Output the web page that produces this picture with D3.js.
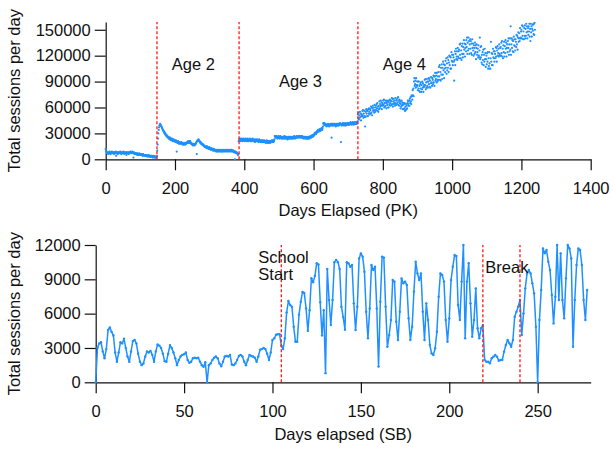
<!DOCTYPE html>
<html lang="en">
<head>
<meta charset="UTF-8">
<title>Total sessions per day</title>
<script src="https://d3js.org/d3.v7.min.js"></script>
<style>
    body { margin: 0; background: #fff; }
    svg text { font-family: "Liberation Sans", Arial, Helvetica, sans-serif; font-size: 16.5px; fill: #111; }
    .axis path, .axis line { stroke: #111; stroke-width: 1.2px; }
    .axis text { font-size: 16.5px; }
</style>
</head>
<body>
<div id="plot"></div>
<script>
// PK: sessions per day, in thousands, one value per day from day 0
let pkSessions = [
12,10,9,8,7,8,7,6,8,7,8,9,7,8,6,7,8,7,9,8,
7,8,7,8,6,7,8,8,7,9,4,7,8,7,8,6,8,7,7,8,
8,7,9,7,8,6,7,8,7,8,7,9,8,7,6,8,7,8,7,8,
5,7,8,7,8,7,6,8,7,8,8,7,9,8,7,8,8,9,8,7,
2,7,8,6,7,7,6,7,6,7,6,5,7,6,6,5,6,7,5,6,
6,5,6,5,5,6,4,5,6,5,4,5,5,4,5,4,5,4,4,5,
4,3,4,4,5,3,4,4,3,4,3,3,4,3,4,3,2,3,3,4,
3,2,3,3,2,3,2,3,4,10,17,24,30,34,37,39,40,41,40,39,
39,38,37,36,35,34,33,33,32,31,30,31,29,28,29,27,28,26,27,26,
25,26,24,25,24,23,25,23,24,22,23,24,22,23,21,22,23,21,22,21,
22,20,21,22,20,9,21,19,20,21,19,18,20,19,18,19,18,19,20,18,
19,18,17,19,18,17,18,17,18,19,17,18,19,18,19,20,19,20,21,19,
20,21,19,20,21,19,18,19,18,17,18,17,16,17,18,17,16,17,18,17,
18,19,20,6,21,22,21,22,23,21,22,21,20,19,20,18,19,18,17,18,
17,16,17,16,15,16,15,14,15,14,15,13,14,15,13,14,13,12,13,14,
12,13,12,11,12,13,12,11,12,11,10,11,12,11,10,11,10,11,10,9,
10,11,10,9,10,11,10,9,10,11,10,9,10,10,11,9,10,10,9,10,
11,10,9,10,10,11,10,9,10,11,10,10,9,10,11,10,9,10,10,11,
10,9,10,11,10,9,10,10,9,10,9,8,9,0,8,9,8,7,8,7,
7,6,5,6,21,22,23,24,21,23,22,24,23,22,21,23,22,24,23,22,
21,23,22,24,22,21,23,22,22,24,21,23,22,21,23,22,24,22,21,23,
22,21,23,22,24,22,21,22,23,21,22,20,22,23,21,22,21,23,22,21,
22,20,21,23,21,22,20,21,22,21,20,22,21,20,22,21,20,21,22,20,
21,20,19,21,20,22,20,19,21,20,21,19,20,21,20,19,21,20,21,22,
21,20,22,21,20,22,21,23,27,26,27,25,26,27,25,26,24,26,25,27,
25,26,24,25,27,26,25,24,26,25,24,26,25,24,26,25,27,24,25,26,
24,25,26,24,25,23,25,26,24,25,26,24,25,24,26,25,24,25,26,24,
25,26,24,25,27,25,26,24,25,26,25,27,26,25,26,27,26,25,27,26,
26,27,25,26,27,26,25,27,26,25,26,24,25,26,25,24,25,26,24,25,
24,25,26,24,25,24,26,25,24,26,25,27,26,25,27,26,28,27,26,28,
27,29,28,30,29,31,30,29,31,32,31,33,32,34,33,32,34,33,35,34,
33,35,34,36,35,34,36,38,42,41,40,42,41,40,39,41,40,39,38,40,
39,40,41,39,40,38,40,39,41,40,39,41,25,40,39,41,40,39,41,40,
40,41,39,40,38,41,40,39,41,40,39,41,40,39,41,40,42,41,40,20,
41,40,39,41,40,42,41,40,39,41,40,42,41,39,40,41,40,42,41,40,
41,40,42,41,40,42,41,43,42,41,40,42,41,43,42,41,40,42,43,41,
42,41,43,42,41,43,42,44,52,48,54,46,51,48,55,49,53,45,50,52,
50,56,51,57,48,53,49,56,50,38,49,55,58,53,57,50,56,50,58,53,
59,55,52,58,57,53,61,54,60,51,59,62,56,57,60,54,63,57,55,60,
62,57,64,59,65,56,61,55,62,58,67,59,64,61,68,62,66,58,63,65,
62,68,63,69,60,65,61,68,62,66,59,65,68,63,67,60,66,60,68,63,
69,65,62,68,67,63,71,64,70,61,67,70,64,65,68,62,71,65,63,68,
69,64,71,66,72,63,68,62,69,65,67,59,64,61,68,62,66,58,63,65,
58,64,59,65,56,61,57,64,58,62,59,65,68,64,67,62,68,62,70,65,
72,67,64,74,73,69,80,74,82,73,90,94,85,87,91,83,94,86,84,90,
86,80,90,82,90,79,85,78,87,82,89,78,86,81,90,83,88,78,84,86,
84,92,86,93,81,89,83,93,85,90,83,90,94,87,93,84,91,83,95,88,
95,89,85,94,92,87,97,89,96,85,96,100,91,93,97,89,100,92,90,96,
101,92,107,96,109,92,101,91,106,98,110,93,106,98,113,103,110,94,105,109,
101,114,106,117,99,111,103,118,106,115,101,112,120,109,119,105,118,105,124,114,
121,113,109,121,118,113,91,115,125,109,122,128,116,119,125,115,129,119,117,125,
127,117,133,121,134,117,126,115,131,122,134,118,130,122,138,127,134,119,129,133,
125,138,130,141,122,135,126,141,128,137,122,133,139,128,137,123,134,121,139,129,
134,126,120,132,129,122,135,124,132,116,129,133,121,124,128,118,132,120,118,126,
141,116,130,118,131,112,121,110,124,115,127,109,121,113,128,116,123,107,116,120,
110,123,113,124,105,117,108,124,111,105,105,117,136,113,123,109,122,109,128,118,
125,117,113,125,122,117,130,119,129,113,126,131,120,123,128,119,133,122,120,129,
130,120,135,123,137,119,128,117,132,124,136,119,131,123,138,128,135,119,129,133,
124,137,129,140,121,133,125,140,127,154,121,133,140,129,138,125,137,124,142,132,
139,131,126,139,136,130,144,133,143,127,141,147,136,140,146,137,152,141,140,148,
150,140,155,143,154,139,148,139,152,143,155,140,151,143,157,147,154,140,148,152,
144,154,148,157,142,151,137,157,147,154,142,151,156,149,156,145,157,144,158,150
];
let pkTicksX = [0, 200, 400, 600, 800, 1000, 1200, 1400];
let pkTicksY = [0, 30000, 60000, 90000, 120000, 150000];
let pkAgeDays = [148, 385, 728];
let pkAgeNames = ['Age 2', 'Age 3', 'Age 4'];

// SB: sessions per day, one value per day from day 0
let sbSessions = [
0,3030,3400,3500,2700,2100,2900,4570,4800,4400,
4100,2600,1800,2600,3500,3400,3800,3000,2250,1800,
2700,3600,3700,3400,2500,1800,1500,1650,2250,2700,
2600,2750,2400,1800,2700,3300,3200,3000,2500,1850,
1800,2500,3250,3000,2600,2100,1500,1950,2250,2400,
2450,2600,1950,1700,1800,2100,2150,2100,2150,1800,
1500,1350,1750,0,1500,1650,1950,2150,2250,2100,
1650,1400,1800,2250,2300,2250,2400,1550,1500,1650,
1950,2300,2400,2250,1800,1500,1950,2400,2300,2250,
2150,1800,2250,2850,2900,3000,2900,2500,1950,2600,
3700,3850,4150,4200,4200,3200,2900,3850,6100,7100,
6750,6600,4850,3550,3550,5900,7050,7900,7800,6450,
4500,6300,9100,8750,9300,10400,10300,7000,4100,6300,
800,9900,7200,5000,7200,10500,10700,10500,9900,6600,
5700,4600,10500,10400,
10100,10250,6900,4570,6600,10830,11270,10980,9670,6170,
3840,6460,10250,9810,10100,6460,1370,7050,10980,10900,
6600,3100,4130,5440,8940,8800,5290,3700,6170,9080,
8650,8800,8500,5590,3700,4860,7920,10540,9520,8940,
9520,6170,3700,6900,5440,3260,2530,2390,2970,4420,
7480,9520,9380,8800,5440,3550,5590,8940,10100,11120,
11040,6750,5440,8800,12000,3840,8800,10400,6900,3990,
5440,8210,4720,3840,4720,5000,1950,1800,1800,1660,
2100,2240,2390,2240,1890,1950,1950,2680,3260,3700,
3410,3110,3700,5730,6170,6600,7190,4130,6020,8210,
9520,9810,9520,8650,7770,4860,0,5440,8070,11700,
11270,11560,10540,9810,7630,5150,7480,12000,7190,11270,
7190,5590,9080,12000,11700,10830,3110,7190,10250,11700,
11560,10250,7190,5440,8070
];
let sbTicksX = [0, 50, 100, 150, 200, 250];
let sbTicksY = [0, 3000, 6000, 9000, 12000];
let sbEventDays = [105, 219, 240];

let blue = '#1e90ff';
let svg = d3.select('#plot').append('svg')
    .attr('width', 613)
    .attr('height', 450);

function translate(x, y) {
    return 'translate(' + x + ',' + y + ')';
}

function drawAxes(x, y, ticksX, ticksY, xTitle, yTitle, titleY) {
    let [x0, x1] = x.range();
    let [y0, y1] = y.range();

    svg.append('g').attr('class', 'axis')
        .attr('transform', translate(0, y0))
        .call(d3.axisBottom(x).tickValues(ticksX).tickFormat(d3.format('d'))
            .tickSize(11).tickPadding(12).tickSizeOuter(0));
    svg.append('g').attr('class', 'axis')
        .attr('transform', translate(x0, 0))
        .call(d3.axisLeft(y).tickValues(ticksY).tickFormat(d3.format('d'))
            .tickSize(11).tickPadding(4).tickSizeOuter(0));
    svg.selectAll('.axis .domain').attr('fill', 'none');

    svg.append('text')
        .attr('x', (x0 + x1) / 2).attr('y', titleY)
        .attr('text-anchor', 'middle')
        .text(xTitle);
    svg.append('text')
        .attr('transform', translate(20, (y0 + y1) / 2) + ' rotate(-90)')
        .attr('text-anchor', 'middle')
        .text(yTitle);
}

function drawEvents(x, y, days) {
    svg.append('g').selectAll('line')
        .data(days)
        .join('line')
        .attr('x1', d => x(d)).attr('x2', d => x(d))
        .attr('y1', y.range()[0]).attr('y2', y.range()[1])
        .attr('stroke', '#ff1a1a')
        .attr('stroke-width', 1.3)
        .attr('stroke-dasharray', '3,2');
}

// ---- top: PK scatter
let xTop = d3.scaleLinear().domain([0, 1400]).range([105.7, 590.7]);
let yTop = d3.scaleLinear().domain([0, 159000]).range([159.3, 22]);

drawAxes(xTop, yTop, pkTicksX, pkTicksY, 'Days Elapsed (PK)', 'Total sessions per day', 216);

svg.append('g').selectAll('circle')
    .data(pkSessions)
    .join('circle')
    .attr('cx', (d, i) => xTop(i))
    .attr('cy', d => yTop(d * 1000))
    .attr('r', 1.1)
    .attr('fill', blue);

drawEvents(xTop, yTop, pkAgeDays);

let ageAnchors = [[191, 103400], [500, 83700], [800, 103400]];
svg.append('g').selectAll('text')
    .data(pkAgeNames)
    .join('text')
    .attr('x', (d, i) => xTop(ageAnchors[i][0]))
    .attr('y', (d, i) => yTop(ageAnchors[i][1]))
    .text(d => d);

// ---- bottom: SB line
let xBot = d3.scaleLinear().domain([0, 280]).range([95.7, 590.7]);
let yBot = d3.scaleLinear().domain([0, 12000]).range([382.3, 245]);

drawAxes(xBot, yBot, sbTicksX, sbTicksY, 'Days elapsed (SB)', 'Total sessions per day', 440);

svg.append('path')
    .datum(sbSessions)
    .attr('fill', 'none')
    .attr('stroke', blue)
    .attr('stroke-width', 1.5)
    .attr('stroke-linejoin', 'round')
    .attr('d', d3.line().x((d, i) => xBot(i)).y(d => yBot(d)));

svg.append('g').selectAll('circle')
    .data(sbSessions)
    .join('circle')
    .attr('cx', (d, i) => xBot(i))
    .attr('cy', d => yBot(d))
    .attr('r', 1.2)
    .attr('fill', blue);

drawEvents(xBot, yBot, sbEventDays);

svg.append('text').attr('x', xBot(92)).attr('y', yBot(10430)).text('School');
svg.append('text').attr('x', xBot(92)).attr('y', yBot(8940)).text('Start');
svg.append('text').attr('x', xBot(220.4)).attr('y', yBot(9550)).text('Break');
</script>
</body>
</html>
